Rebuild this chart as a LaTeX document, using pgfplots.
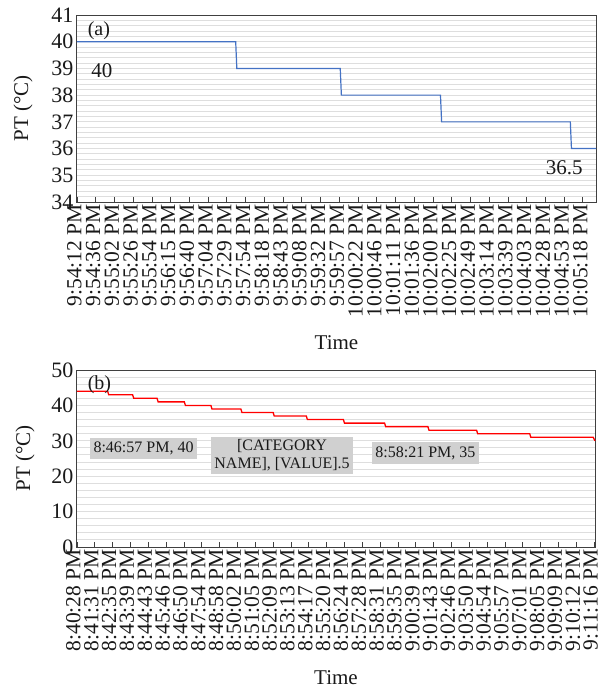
\documentclass[border=0pt]{standalone}
\usepackage{pgfplots}
\pgfplotsset{compat=1.18}
\usepackage{fontspec}
\setmainfont{Liberation Serif}
\definecolor{lineblue}{RGB}{68,114,196}
\definecolor{gridgray}{RGB}{222,222,222}
\definecolor{boxgray}{RGB}{208,208,208}
\definecolor{axisgray}{RGB}{64,64,64}
\definecolor{txt}{RGB}{25,25,25}
\begin{document}
\begin{tikzpicture}
\useasboundingbox (-77pt,15pt) rectangle (524pt,-674pt);
\pgfplotsset{
  common/.style={
    scale only axis,
    axis line style={axisgray, line width=1pt},
    tick style={axisgray, line width=0.8pt},
    ytick style={draw=none},
    minor tick length=0pt,
    xtick pos=left,
    tick align=inside,
    major tick length=5pt,
    ymajorgrids, yminorgrids,
    major grid style={gridgray, line width=1pt},
    minor grid style={gridgray, line width=1pt},
    xticklabel style={rotate=90, anchor=east, font=\fontsize{21.5}{21.5}\selectfont, text=txt, inner sep=2pt, yshift=2.5pt},
    yticklabel style={font=\fontsize{22}{22}\selectfont, text=txt},
    /pgf/number format/assume math mode=true,
    label style={font=\fontsize{21}{24}\selectfont, text=txt},
    xlabel=Time, ylabel={PT (°C)},
    xlabel style={at={(axis description cs:0.5,0)}, anchor=center},
    ylabel style={at={(axis description cs:0,0.5)}, anchor=center},
    clip=false,
  }
}
\begin{axis}[common, at={(0pt,0pt)}, anchor=north west,
  width=519pt, height=187pt,
  xmin=0, xmax=27.7, ymin=34, ymax=41,
  ytick={34,35,...,41}, minor y tick num=4,
  xtick={0,1,...,27},
  xticklabels={9:54:12 PM,9:54:36 PM,9:55:02 PM,9:55:26 PM,9:55:54 PM,9:56:15 PM,9:56:40 PM,9:57:04 PM,9:57:29 PM,9:57:54 PM,9:58:18 PM,9:58:43 PM,9:59:08 PM,9:59:32 PM,9:59:57 PM,10:00:22 PM,10:00:46 PM,10:01:11 PM,10:01:36 PM,10:02:00 PM,10:02:25 PM,10:02:49 PM,10:03:14 PM,10:03:39 PM,10:04:03 PM,10:04:28 PM,10:04:53 PM,10:05:18 PM},
  xlabel style={yshift=-141pt},
  ylabel style={yshift=54pt},
]
\addplot[lineblue, line width=1.2pt] coordinates {(0,40) (8.47,40) (8.53,39) (14.05,39) (14.11,38) (19.40,38) (19.46,37) (26.33,37) (26.39,36) (27.7,36)};
\node[font=\fontsize{21}{21}\selectfont, text=txt] at (axis cs:1.33,38.9) {40};
\node[font=\fontsize{21}{21}\selectfont, text=txt] at (axis cs:26.0,35.27) {36.5};
\node[font=\fontsize{20}{20}\selectfont, text=txt] at (axis cs:1.17,40.42) {(a)};
\end{axis}
\begin{axis}[common, at={(0pt,-355pt)}, anchor=north west,
  width=518pt, height=177pt,
  xmin=0, xmax=29.05, ymin=0, ymax=50,
  ytick={0,10,...,50}, minor y tick num=4,
  xtick={0,1,...,29},
  xticklabels={8:40:28 PM,8:41:31 PM,8:42:35 PM,8:43:39 PM,8:44:43 PM,8:45:46 PM,8:46:50 PM,8:47:54 PM,8:48:58 PM,8:50:02 PM,8:51:05 PM,8:52:09 PM,8:53:13 PM,8:54:17 PM,8:55:20 PM,8:56:24 PM,8:57:28 PM,8:58:31 PM,8:59:35 PM,9:00:39 PM,9:01:43 PM,9:02:46 PM,9:03:50 PM,9:04:54 PM,9:05:57 PM,9:07:01 PM,9:08:05 PM,9:09:09 PM,9:10:12 PM,9:11:16 PM},
  xticklabel style={yshift=1pt},
  xlabel style={yshift=-131pt},
  ylabel style={yshift=52pt},
]
\addplot[red, line width=1.3pt] coordinates {(0,44) (1.72,44) (1.78,43) (3.12,43) (3.18,42) (4.49,42) (4.55,41) (6.02,41) (6.08,40) (7.51,40) (7.57,39) (9.19,39) (9.25,38) (11.0,38) (11.06,37) (12.86,37) (12.92,36) (14.94,36) (15.0,35) (17.25,35) (17.31,34) (19.68,34) (19.74,33) (22.41,33) (22.47,32) (25.39,32) (25.45,31) (28.95,31) (29.05,30)};
\node[font=\fontsize{20}{20}\selectfont, text=txt] at (axis cs:1.26,45.9) {(b)};
\node[fill=boxgray, text=txt, font=\fontsize{16}{18}\selectfont, inner xsep=3.5pt, inner ysep=4pt] at (axis cs:3.73,27.8) {8:46:57 PM, 40};
\node[fill=boxgray, text=txt, font=\fontsize{16}{18}\selectfont, inner xsep=3.5pt, inner ysep=3pt, align=center] at (axis cs:11.5,25.85) {[CATEGORY\\NAME], [VALUE].5};
\node[fill=boxgray, text=txt, font=\fontsize{16}{18}\selectfont, inner xsep=3.5pt, inner ysep=4pt] at (axis cs:19.54,26.55) {8:58:21 PM, 35};
\end{axis}
\end{tikzpicture}
\end{document}
